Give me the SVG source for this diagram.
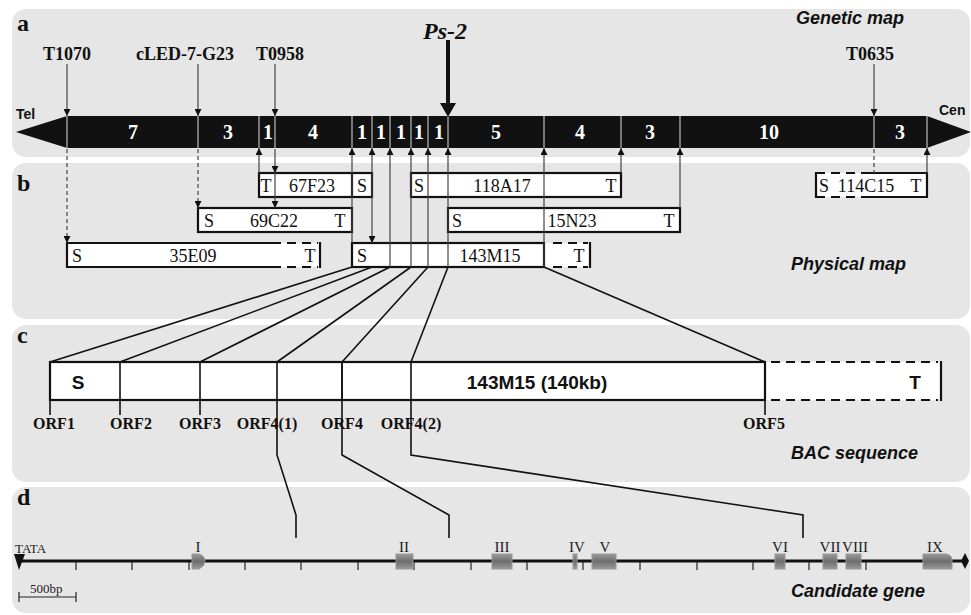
<svg xmlns="http://www.w3.org/2000/svg" width="971" height="615" viewBox="0 0 971 615">
<style>
.panel{fill:#e6e6e6}
.plab{font-family:"Liberation Serif",serif;font-weight:bold;font-size:24px;fill:#111}
.title{font-family:"Liberation Sans",Arial,sans-serif;font-weight:bold;font-style:italic;font-size:18px;fill:#111;text-anchor:end}
.mk{font-family:"Liberation Serif",serif;font-weight:bold;font-size:18px;fill:#111;text-anchor:middle}
.num{font-family:"Liberation Serif",serif;font-weight:bold;font-size:20px;fill:#fff;text-anchor:middle}
.end{font-family:"Liberation Sans",Arial,sans-serif;font-weight:bold;font-size:14px;fill:#111}
.cl{font-family:"Liberation Serif",serif;font-size:18px;fill:#111;text-anchor:middle}
.box{fill:#fff;stroke:#111;stroke-width:2.2}
.bx{fill:none;stroke:#111;stroke-width:2.2}
.dsh{fill:none;stroke:#111;stroke-width:2.2;stroke-dasharray:9,6}
.arr{stroke:#444;stroke-width:1.2;fill:none}
.darr{stroke:#444;stroke-width:1.2;fill:none;stroke-dasharray:4,3}
.div{stroke:#ddd;stroke-width:1}
.zl{stroke:#111;stroke-width:1.6;fill:none}
.orf{font-family:"Liberation Serif",serif;font-weight:bold;font-size:16px;fill:#111;text-anchor:middle}
.bac{font-family:"Liberation Sans",Arial,sans-serif;font-weight:bold;font-size:19px;fill:#111;text-anchor:middle}
.ex{font-family:"Liberation Serif",serif;font-size:15px;fill:#222;text-anchor:middle}
.exon{fill:url(#eg);stroke:#999;stroke-width:1}
.tick{stroke:#222;stroke-width:1.2}
</style>
<defs>
<marker id="ah" viewBox="0 0 10 10" refX="10" refY="5" markerWidth="7" markerHeight="7" orient="auto-start-reverse" markerUnits="userSpaceOnUse"><path d="M0,0 L10,5 L0,10 z" fill="#111"/></marker>
<linearGradient id="eg" x1="0" y1="0" x2="0" y2="1"><stop offset="0" stop-color="#999"/><stop offset="0.5" stop-color="#6e6e6e"/><stop offset="1" stop-color="#9a9a9a"/></linearGradient>
</defs>

<g id="panels">
<rect class="panel" x="12" y="9" width="958" height="148" rx="14"/>
<rect class="panel" x="12" y="163" width="958" height="156" rx="14"/>
<rect class="panel" x="12" y="325" width="958" height="157" rx="14"/>
<rect class="panel" x="12" y="487" width="958" height="126" rx="14"/>
<text class="plab" x="17" y="31">a</text>
<text class="plab" x="17" y="191">b</text>
<text class="plab" x="17" y="343">c</text>
<text class="plab" x="17" y="505">d</text>
<text class="title" x="904" y="24">Genetic map</text>
<text class="title" x="906" y="270">Physical map</text>
<text class="title" x="918" y="459">BAC sequence</text>
<text class="title" x="925" y="597">Candidate gene</text>
</g>

<g id="genetic-map">
<polygon points="16,132 67,116 67,148" fill="#111"/>
<polygon points="927,116 971,132 927,148" fill="#111"/>
<rect x="67" y="116" width="860" height="32" fill="#111"/>
<g class="div">
<line x1="67" y1="116" x2="67" y2="148"/><line x1="198" y1="116" x2="198" y2="148"/>
<line x1="259" y1="116" x2="259" y2="148"/><line x1="275" y1="116" x2="275" y2="148"/>
<line x1="352" y1="116" x2="352" y2="148"/><line x1="372" y1="116" x2="372" y2="148"/>
<line x1="390" y1="116" x2="390" y2="148"/><line x1="411" y1="116" x2="411" y2="148"/>
<line x1="428" y1="116" x2="428" y2="148"/><line x1="448" y1="116" x2="448" y2="148"/>
<line x1="544" y1="116" x2="544" y2="148"/><line x1="621" y1="116" x2="621" y2="148"/>
<line x1="680" y1="116" x2="680" y2="148"/><line x1="874" y1="116" x2="874" y2="148"/>
<line x1="927" y1="116" x2="927" y2="148"/>
</g>
<text class="num" x="133" y="139">7</text>
<text class="num" x="228" y="139">3</text>
<text class="num" x="268" y="139">1</text>
<text class="num" x="313" y="139">4</text>
<text class="num" x="362" y="139">1</text>
<text class="num" x="381" y="139">1</text>
<text class="num" x="401" y="139">1</text>
<text class="num" x="419" y="139">1</text>
<text class="num" x="439" y="139">1</text>
<text class="num" x="496" y="139">5</text>
<text class="num" x="580" y="139">4</text>
<text class="num" x="650" y="139">3</text>
<text class="num" x="769" y="139">10</text>
<text class="num" x="900" y="139">3</text>
<text class="end" x="16" y="119">Tel</text>
<text class="end" x="939" y="115">Cen</text>
<text class="mk" x="67" y="60">T1070</text>
<text class="mk" x="185" y="60">cLED-7-G23</text>
<text class="mk" x="280" y="60">T0958</text>
<text class="mk" x="870" y="60">T0635</text>
<text x="445" y="39" font-family="Liberation Serif, serif" font-weight="bold" font-style="italic" font-size="24" fill="#111" text-anchor="middle">Ps-2</text>
</g>

<g id="clone-67F23">
<rect class="box" x="259" y="173" width="113" height="24"/>
<line class="bx" x1="352" y1="173" x2="352" y2="197"/>
<text class="cl" x="266" y="192">T</text>
<text class="cl" x="312" y="192">67F23</text>
<text class="cl" x="362" y="192">S</text>
</g>
<g id="clone-69C22">
<rect class="box" x="198" y="208" width="154" height="24"/>
<text class="cl" x="209" y="227">S</text>
<text class="cl" x="274" y="227">69C22</text>
<text class="cl" x="340" y="227">T</text>
</g>
<g id="clone-35E09">
<rect x="67" y="243" width="253" height="24" fill="#fff"/>
<path class="bx" d="M272,243 H67 V267 H272"/>
<path class="dsh" d="M272,243 H318 M272,267 H318"/>
<line class="bx" x1="320" y1="242" x2="320" y2="268"/>
<text class="cl" x="77" y="262">S</text>
<text class="cl" x="193" y="262">35E09</text>
<text class="cl" x="310" y="262">T</text>
</g>
<g id="clone-143M15">
<rect x="544" y="243" width="46" height="24" fill="#fff"/>
<rect class="box" x="352" y="243" width="192" height="24"/>
<path class="dsh" d="M553,243 H588 M553,267 H588"/>
<line class="bx" x1="590" y1="242" x2="590" y2="268"/>
<text class="cl" x="362" y="262">S</text>
<text class="cl" x="490" y="262">143M15</text>
<text class="cl" x="579" y="262">T</text>
</g>
<g id="clone-118A17">
<rect class="box" x="411" y="173" width="210" height="24"/>
<text class="cl" x="419" y="192">S</text>
<text class="cl" x="502" y="192">118A17</text>
<text class="cl" x="611" y="192">T</text>
</g>
<g id="clone-15N23">
<rect class="box" x="448" y="208" width="232" height="24"/>
<text class="cl" x="457" y="227">S</text>
<text class="cl" x="572" y="227">15N23</text>
<text class="cl" x="669" y="227">T</text>
</g>
<g id="clone-114C15">
<rect x="816" y="173" width="111" height="24" fill="#fff"/>
<line class="bx" x1="816" y1="172" x2="816" y2="198"/>
<path class="dsh" d="M816,173 H870 M816,197 H870"/>
<path class="bx" d="M870,173 H927 V197 H870"/>
<text class="cl" x="824" y="192" font-size="17">S</text>
<text class="cl" x="866" y="192" font-size="17">114C15</text>
<text class="cl" x="916" y="192" font-size="17">T</text>
</g>

<g id="bac">
<rect x="765" y="362" width="176" height="38" fill="#fff"/>
<rect class="box" x="50" y="362" width="715" height="38"/>
<path class="dsh" d="M771,362 H938 M771,400 H938"/>
<line class="bx" x1="941" y1="361" x2="941" y2="401"/>
<g class="zl">
<line x1="50" y1="362" x2="50" y2="415"/>
<line x1="120" y1="362" x2="120" y2="415"/>
<line x1="200" y1="362" x2="200" y2="415"/>
<line x1="342" y1="362" x2="342" y2="400"/>
<line x1="765" y1="362" x2="765" y2="415"/>
</g>
<text class="bac" x="78" y="389">S</text>
<text class="bac" x="537" y="389">143M15 (140kb)</text>
<text class="bac" x="915" y="389">T</text>
<text class="orf" x="54" y="429">ORF1</text>
<text class="orf" x="131" y="429">ORF2</text>
<text class="orf" x="200" y="429">ORF3</text>
<text class="orf" x="267" y="429">ORF4(1)</text>
<text class="orf" x="342" y="429">ORF4</text>
<text class="orf" x="411" y="429">ORF4(2)</text>
<text class="orf" x="764" y="429">ORF5</text>
</g>

<g id="candidate-gene">
<line x1="20" y1="561" x2="962" y2="561" stroke="#111" stroke-width="3"/>
<g class="tick">
<line x1="76" y1="562" x2="76" y2="570"/><line x1="132" y1="562" x2="132" y2="570"/>
<line x1="189" y1="562" x2="189" y2="570"/><line x1="245" y1="562" x2="245" y2="570"/>
<line x1="301" y1="562" x2="301" y2="570"/><line x1="358" y1="562" x2="358" y2="570"/>
<line x1="414" y1="562" x2="414" y2="570"/><line x1="471" y1="562" x2="471" y2="570"/>
<line x1="527" y1="562" x2="527" y2="570"/><line x1="583" y1="562" x2="583" y2="570"/>
<line x1="640" y1="562" x2="640" y2="570"/><line x1="697" y1="562" x2="697" y2="570"/>
<line x1="753" y1="562" x2="753" y2="570"/><line x1="809" y1="562" x2="809" y2="570"/>
<line x1="866" y1="562" x2="866" y2="570"/>
</g>
<polygon points="14,554 25,554 19,570" fill="#111"/>
<polygon points="965,553 969,561 965,569 961,561" fill="#111"/>
<text x="15" y="553" font-family="Liberation Serif, serif" font-size="13" fill="#222">TATA</text>
<path class="exon" d="M192,554 H199 Q205,556 205,561 Q205,566 199,569 H192 Z"/>
<rect class="exon" x="396" y="554" width="17" height="15"/>
<rect class="exon" x="492" y="554" width="20" height="15"/>
<rect class="exon" x="573" y="554" width="4" height="15"/>
<rect class="exon" x="592" y="554" width="24" height="15"/>
<rect class="exon" x="775" y="554" width="10" height="15"/>
<rect class="exon" x="823" y="554" width="14" height="15"/>
<rect class="exon" x="846" y="554" width="15" height="15"/>
<path class="exon" d="M923,554 H946 Q952,555 952,560 V569 H923 Z"/>
<text class="ex" x="198" y="552">I</text>
<text class="ex" x="404" y="552">II</text>
<text class="ex" x="502" y="552">III</text>
<text class="ex" x="577" y="552">IV</text>
<text class="ex" x="605" y="552">V</text>
<text class="ex" x="780" y="552">VI</text>
<text class="ex" x="830" y="552">VII</text>
<text class="ex" x="855" y="552">VIII</text>
<text class="ex" x="935" y="552">IX</text>
<path d="M19,592 V602 M19,597 H76 M76,592 V602" stroke="#222" stroke-width="1.2" fill="none"/>
<text x="30" y="593" font-family="Liberation Serif, serif" font-size="13" fill="#222">500bp</text>
</g>

<g id="connectors">
<line class="arr" x1="67" y1="64" x2="67" y2="116" marker-end="url(#ah)"/>
<line class="arr" x1="198" y1="64" x2="198" y2="116" marker-end="url(#ah)"/>
<line class="arr" x1="275" y1="64" x2="275" y2="116" marker-end="url(#ah)"/>
<line class="arr" x1="874" y1="64" x2="874" y2="116" marker-end="url(#ah)"/>
<line x1="448" y1="40" x2="448" y2="104" stroke="#111" stroke-width="4"/>
<polygon points="440,103 456,103 448,117" fill="#111"/>
<line class="darr" x1="67" y1="149" x2="67" y2="243" marker-end="url(#ah)"/>
<line class="darr" x1="198" y1="149" x2="198" y2="208" marker-end="url(#ah)"/>
<line class="darr" x1="874" y1="149" x2="874" y2="173"/>
<line class="arr" x1="275" y1="149" x2="275" y2="173" marker-end="url(#ah)"/>
<line class="arr" x1="275" y1="173" x2="275" y2="208" marker-end="url(#ah)"/>
<line class="arr" x1="259" y1="173" x2="259" y2="148" marker-end="url(#ah)"/>
<line class="arr" x1="352" y1="243" x2="352" y2="148" marker-end="url(#ah)"/>
<line class="arr" x1="372" y1="148" x2="372" y2="243" marker-start="url(#ah)" marker-end="url(#ah)"/>
<line class="arr" x1="390" y1="267" x2="390" y2="148" marker-end="url(#ah)"/>
<line class="arr" x1="411" y1="267" x2="411" y2="148" marker-end="url(#ah)"/>
<line class="arr" x1="428" y1="267" x2="428" y2="148" marker-end="url(#ah)"/>
<line class="arr" x1="448" y1="267" x2="448" y2="148" marker-end="url(#ah)"/>
<line class="arr" x1="544" y1="267" x2="544" y2="148" marker-end="url(#ah)"/>
<line class="arr" x1="621" y1="173" x2="621" y2="148" marker-end="url(#ah)"/>
<line class="arr" x1="680" y1="208" x2="680" y2="148" marker-end="url(#ah)"/>
<line class="arr" x1="927" y1="173" x2="927" y2="148" marker-end="url(#ah)"/>
<g class="zl">
<line x1="352" y1="267" x2="50" y2="362"/>
<line x1="372" y1="267" x2="120" y2="362"/>
<line x1="390" y1="267" x2="200" y2="362"/>
<line x1="411" y1="267" x2="277" y2="362"/>
<line x1="428" y1="267" x2="342" y2="362"/>
<line x1="448" y1="267" x2="411" y2="362"/>
<line x1="544" y1="267" x2="765" y2="362"/>
<polyline points="277,362 277,455 296,515 296,538"/>
<polyline points="342,362 342,455 449,515 449,538"/>
<polyline points="411,362 411,455 803,515 803,538"/>
</g>
</g>
</svg>
